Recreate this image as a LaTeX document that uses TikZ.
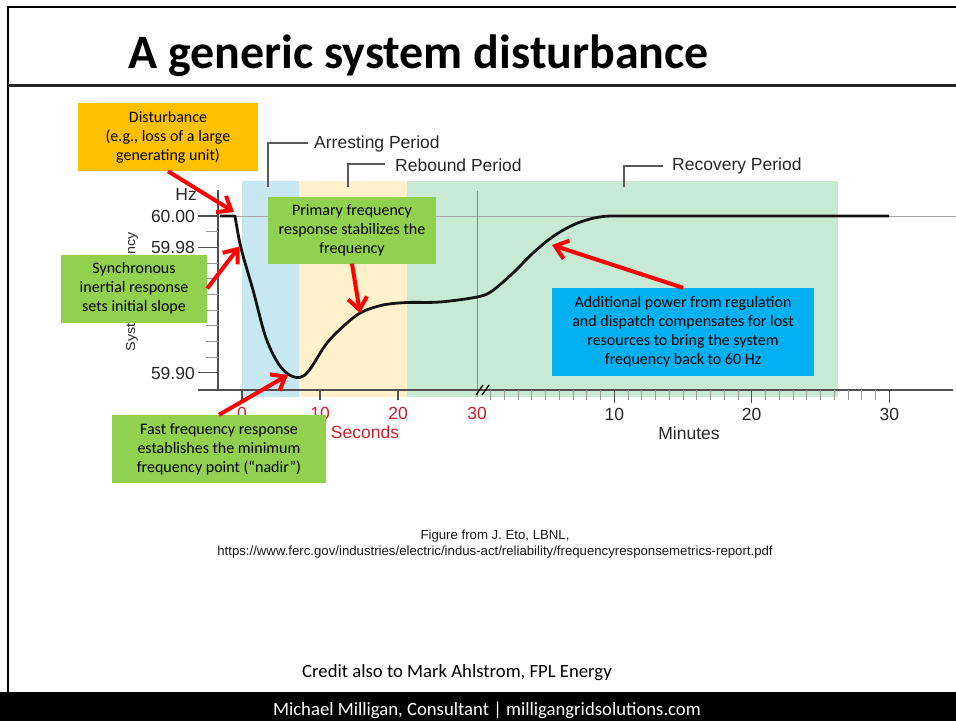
\documentclass[tikz,border=0pt]{standalone}
\usepackage{fontspec}
\setmainfont{Carlito}
\newfontfamily\arialf{Liberation Sans}
\usetikzlibrary{arrows.meta}
\definecolor{bandblue}{RGB}{200,232,241}
\definecolor{bandyellow}{RGB}{255,241,203}
\definecolor{bandgreen}{RGB}{200,234,213}
\definecolor{boxorange}{RGB}{255,192,0}
\definecolor{boxgreen}{RGB}{146,208,80}
\definecolor{boxblue}{RGB}{0,176,240}
\definecolor{secred}{RGB}{200,32,44}
\definecolor{axisgray}{RGB}{80,80,80}
\definecolor{txtgray}{RGB}{40,40,40}
\newcommand{\boxfont}{\fontsize{16}{19}\selectfont}
\newcommand{\chartfont}{\arialf\fontsize{17.5}{20}\selectfont}
\begin{document}
\begin{tikzpicture}[x=1pt,y=-1pt,
  callout/.style={inner sep=0pt, align=center, font=\boxfont, text=black},
  redarrow/.style={draw=red, line width=4pt, -{Straight Barb[length=12pt,width=19pt]}},
  bracket/.style={draw=black!65, line width=1.2pt},
  chartlbl/.style={font=\chartfont, text=txtgray, inner sep=0pt},
  seclbl/.style={font=\chartfont, text=secred, inner sep=0pt},
  minortick/.style={draw=black!40, line width=1pt},
  majortick/.style={draw=axisgray, line width=1.3pt},
  curve/.style={draw=black!92, line width=2.8pt, line join=round}
]
\useasboundingbox (0,0) rectangle (956,721);
\fill[white] (0,0) rectangle (956,721);

% frame and title
\draw[line width=2.3pt] (956,7) -- (8,7) -- (8,692);
\draw[line width=2.8pt, black!85] (8,85.5) -- (956,85.5);
\node[anchor=base west, inner sep=0pt, font=\fontsize{48}{56}\selectfont\bfseries] (title) at (128,68) {A generic system disturbance};

% bands
\fill[bandblue] (242,181) rectangle (298.5,397);
\fill[bandyellow] (298.5,181) rectangle (407,397);
\fill[bandgreen] (407,181) rectangle (838,397);

% grid lines
\draw[black!35, line width=1pt] (198,216) -- (956,216);
\draw[black!45, line width=1pt] (477,191) -- (477,397);

% axes
\draw[axisgray, line width=1.5pt] (218,190) -- (218,390);
\draw[axisgray, line width=1.5pt] (198,390) -- (953,390);

% y ticks
\foreach \i in {1,3,4,5,6,7,8,9} {\draw[minortick] (206,216+15.67*\i) -- (218,216+15.67*\i);}
\foreach \i in {0,2,10} {\draw[majortick] (198,216+15.67*\i) -- (218,216+15.67*\i);}

% seconds ticks
\foreach \x in {242,320,398} {\draw[majortick] (\x,390) -- (\x,400);}
% minute ticks
\foreach \k in {1,...,29} {\draw[minortick] (476.8+13.75*\k,390) -- (476.8+13.75*\k,400);}
\foreach \k in {10,20,30} {\draw[majortick] (476.8+13.75*\k,390) -- (476.8+13.75*\k,403);}
% axis break
\draw[black, line width=1.3pt] (476,395) -- (483,385);
\draw[black, line width=1.3pt] (482,395) -- (489,385);

% y labels
\node[chartlbl, anchor=east] (hz) at (197,194) {Hz};
\node[chartlbl, anchor=east] (y600) at (195,216) {60.00};
\node[chartlbl, anchor=east] (y598) at (195,247) {59.98};
\node[chartlbl, anchor=east] (y590) at (195,373) {59.90};
\node[rotate=90, inner sep=0pt, text=txtgray, font=\arialf\fontsize{13}{16}\selectfont] (ylab) at (132,291.5) {\scalebox{1.1}[1]{System Frequency}};

% x labels
\node[seclbl] (s0) at (242,413) {0};
\node[seclbl] (s10) at (320,413) {10};
\node[seclbl] (s20) at (398,413) {20};
\node[seclbl] (s30) at (477,413) {30};
\node[seclbl] (secs) at (365,432) {Seconds};
\node[chartlbl] (m10) at (614.3,414) {10};
\node[chartlbl] (m20) at (751.7,414) {20};
\node[chartlbl] (m30) at (889.3,414) {30};
\node[chartlbl] (mins) at (689,433) {Minutes};

% period brackets
\draw[bracket] (268,187) -- (268,143) -- (308,143);
\node[chartlbl, anchor=west] (arrest) at (314,144) {Arresting Period};
\draw[bracket] (348,187) -- (348,164) -- (385,164);
\node[chartlbl, anchor=west] (rebound) at (395,165) {Rebound Period};
\draw[bracket] (624,187) -- (624,166) -- (663,166);
\node[chartlbl, anchor=west] (recov) at (672,166) {Recovery Period};

% frequency curve
\draw[curve] (220,216) -- (235,216) -- plot[smooth, tension=0.55] coordinates {(235,216) (241,248) (253,290) (266,338) (280,366) (294,377) (307,373) (327,343) (347,323) (362,312) (383,305) (407,302.5) (440,302) (477,297) (492,291) (513,273) (533,253) (553,236.5) (573,225) (590,219) (605,216.3) (620,216)} -- (889,216);

% anchor points on curve
\coordinate (tipdist) at (234,212);
\coordinate (tipsync) at (239.5,246.5);
\coordinate (tipprim) at (360,313);
\coordinate (tipfast) at (288,375);
\coordinate (tipblue) at (552,245);

% callout boxes
\node[callout, fill=boxorange, minimum width=180pt, minimum height=68pt] (dist) at (168,137) {Disturbance\\(e.g., loss of a large\\generating unit)};
\node[callout, fill=boxgreen, minimum width=146pt, minimum height=68pt] (sync) at (134,288.5) {Synchronous\\inertial response\\sets initial slope};
\node[callout, fill=boxgreen, minimum width=168pt, minimum height=67pt] (prim) at (352,230) {Primary frequency\\response stabilizes the\\frequency};
\node[callout, fill=boxgreen, minimum width=214pt, minimum height=68pt] (fast) at (219,449) {Fast frequency response\\establishes the minimum\\frequency point (“nadir”)};
\node[callout, fill=boxblue, minimum width=262pt, minimum height=88pt] (blue) at (683,332) {Additional power from regulation\\and dispatch compensates for lost\\resources to bring the system\\frequency back to 60 Hz};

% arrows
\draw[redarrow] (dist.south) -- (tipdist);
\draw[redarrow] (sync.east) -- (tipsync);
\draw[redarrow] (prim.south) -- (tipprim);
\draw[redarrow] (fast.north) -- (tipfast);
\draw[redarrow] (blue.north) -- (tipblue);

% caption
\node[inner sep=0pt, align=center, font=\arialf\fontsize{13.2}{16}\selectfont, text=black!90] (cap) at (495,544) {Figure from J. Eto, LBNL,\\https://www.ferc.gov/industries/electric/indus-act/reliability/frequencyresponsemetrics-report.pdf};

% credit and footer
\node[inner sep=0pt, font=\fontsize{18.7}{22}\selectfont] (credit) at (457,673) {Credit also to Mark Ahlstrom, FPL Energy};
\fill[black] (0,692) rectangle (956,721);
\node[inner sep=0pt, text=white, font=\fontsize{18.7}{22}\selectfont] (footer) at (487,710) {Michael Milligan, Consultant | milligangridsolutions.com};
\end{tikzpicture}
\end{document}
